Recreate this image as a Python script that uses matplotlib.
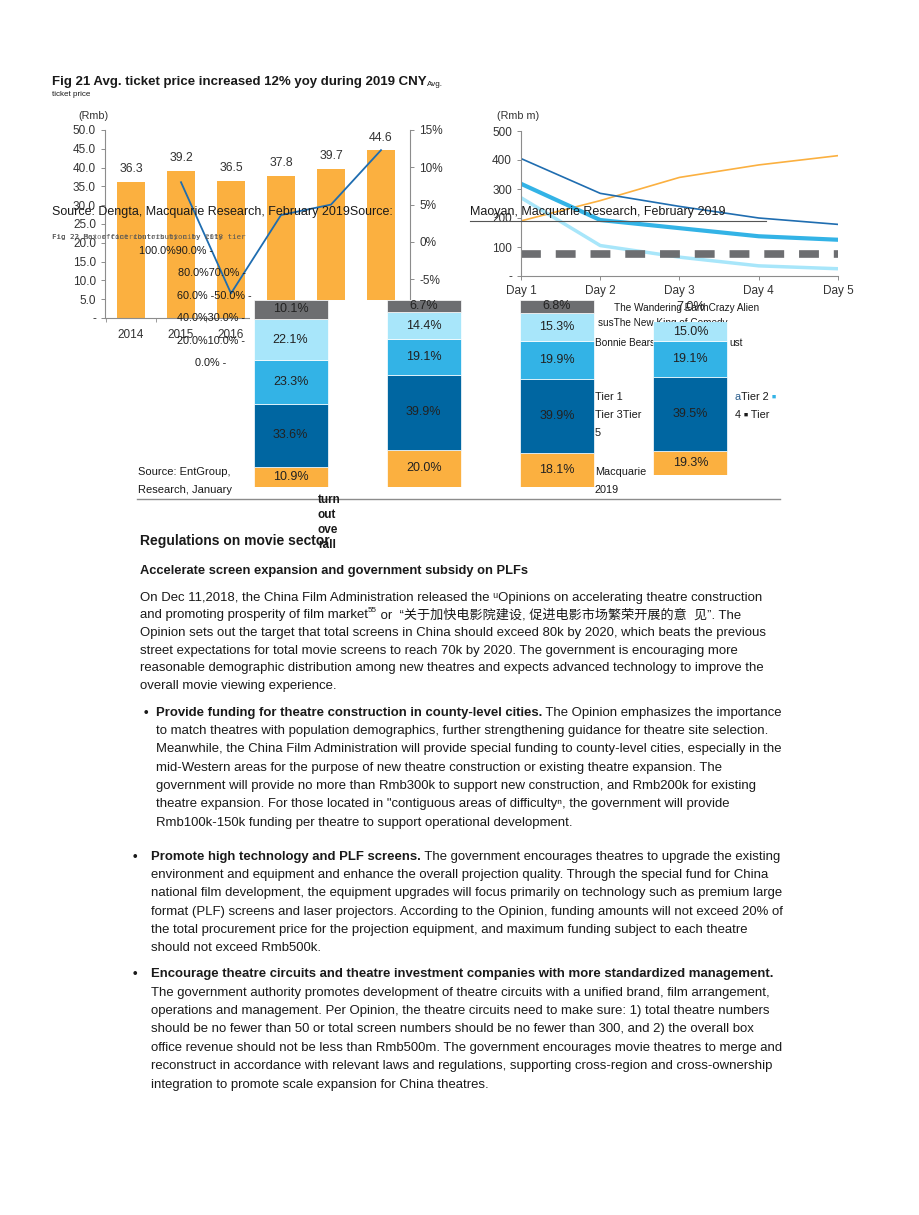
import matplotlib
matplotlib.use("Agg")
import matplotlib.pyplot as plt
from matplotlib.lines import Line2D

# --- 数据 ---
years = ["2014", "2015", "2016", "2017", "2018", "2019"]
ticket_price = [36.3, 39.2, 36.5, 37.8, 39.7, 44.6]
price_yoy = [8.0, -6.9, 3.6, 5.0, 12.3]  # % , 2015-2019

days = ["Day 1", "Day 2", "Day 3", "Day 4", "Day 5"]
wandering_earth = [190, 260, 340, 383, 415]
crazy_alien = [405, 285, 240, 200, 178]
pegasus = [318, 193, 165, 137, 125]
new_king_comedy = [270, 105, 65, 35, 25]
boonie_bears = [75, 75, 75, 75, 75]

tier1 = [10.9, 20.0, 18.1, 19.3]
tier2 = [33.6, 39.9, 39.9, 39.5]
tier3 = [23.3, 19.1, 19.9, 19.1]
tier4 = [22.1, 14.4, 15.3, 15.0]
tier5 = [10.1, 6.7, 6.8, 7.0]

ORANGE = "#FBB040"
DARK = "#0066A1"
MID = "#33B3E6"
LIGHT = "#A8E6FA"
GREY = "#6D6E71"
LINE_BLUE = "#1F6DB0"
TXT = "#1a1a1a"
AX = "#8c8c8c"

W, H = 920, 1215
plt.rcParams["font.family"] = ["Liberation Sans", "DejaVu Sans", "Noto Sans CJK SC"]
fig = plt.figure(figsize=(W / 100, H / 100), dpi=100)
renderer = fig.canvas.get_renderer()


def box(x0, y0, x1, y1):
    return [x0 / W, 1 - y1 / H, (x1 - x0) / W, (y1 - y0) / H]


def put(x, y, s, **kw):
    kw.setdefault("va", "center")
    kw.setdefault("color", TXT)
    return fig.text(x / W, 1 - y / H, s, **kw)


def run(x, y, parts, **common):
    for s, kw in parts:
        kw = {**common, **kw}
        dy = kw.pop("dy", 0)
        t = put(x, y - dy, s, **kw)
        x += t.get_window_extent(renderer=renderer).width
    return x


def style_spines(ax, keep):
    for k, sp in ax.spines.items():
        sp.set_visible(k in keep)
        sp.set_color(AX)
        sp.set_linewidth(0.8)
    ax.tick_params(colors=AX, labelcolor="#333333", labelsize=8.5, length=3, width=0.7)


# --- Fig 21: 평균 티켓 가격 ---
ax1 = fig.add_axes(box(105, 130, 410, 318))
x = list(range(len(years)))
ax1.bar(x, ticket_price, width=0.56, color=ORANGE)
for xi, v in zip(x, ticket_price):
    ax1.text(xi, v + 3.4, f"{v:.1f}", ha="center", va="center", fontsize=8.8, color="#333333")
ax1.set_xlim(-0.52, 5.58)
ax1.set_ylim(0, 50)
ax1.set_yticks(range(0, 51, 5))
ax1.set_yticklabels(["-"] + [f"{v:.1f}" for v in range(5, 51, 5)])
ax1.set_xticks(x)
ax1.set_xticklabels(years)
ax1.set_xticks([i + 0.5 for i in range(-1, 6)], minor=True)
style_spines(ax1, ["left", "bottom"])
ax1.tick_params(axis="x", which="major", length=0, pad=8)
ax1.tick_params(axis="x", which="minor", length=3, color=AX)

ax1r = ax1.twinx()
ax1r.plot(x[1:], price_yoy, color=LINE_BLUE, lw=1.3)
ax1r.set_ylim(-10.2, 15)
ax1r.set_yticks([-10, -5, 0, 5, 10, 15])
ax1r.set_yticklabels(["-10%", "-5%", "0%", "5%", "10%", "15%"])
style_spines(ax1r, ["right"])

run(52, 82, [("Fig 21 Avg. ticket price increased 12% yoy during 2019 CNY",
              {"fontsize": 9.5, "fontweight": "bold"}),
             ("Avg.", {"fontsize": 5.8, "dy": -2})])
put(52, 94, "ticket price", fontsize=5.8)
put(78, 116, "(Rmb)", fontsize=7.8, color="#333333")

# --- 일별 박스오피스 ---
ax2 = fig.add_axes(box(521, 131, 838, 276))
dx = list(range(len(days)))
ax2.plot(dx, wandering_earth, color=ORANGE, lw=1.2)
ax2.plot(dx, crazy_alien, color=LINE_BLUE, lw=1.2)
ax2.plot(dx, pegasus, color=MID, lw=3.0)
ax2.plot(dx, new_king_comedy, color=LIGHT, lw=2.5)
ax2.plot(dx, boonie_bears, color=GREY, lw=5.5, dashes=(2.6, 1.95), solid_capstyle="butt",
         dash_capstyle="butt")
ax2.set_xlim(0, 4)
ax2.set_ylim(0, 500)
ax2.set_yticks(range(0, 501, 100))
ax2.set_yticklabels(["-", "100", "200", "300", "400", "500"])
ax2.set_xticks(dx)
ax2.set_xticklabels(days)
style_spines(ax2, ["left", "bottom"])
put(497, 116, "(Rmb m)", fontsize=7.8, color="#333333")

put(52, 212, "Source: Dengta, Macquarie Research, February 2019Source:", fontsize=9)
put(470, 212, "Maoyan, Macquarie Research, February 2019", fontsize=9)
fig.add_artist(Line2D([470 / W, 766 / W], [1 - 221 / H, 1 - 221 / H], color="#555555", lw=0.8))
put(52, 237, "Fig 22 Box office contribution by city tier", fontsize=5.4, family="DejaVu Sans Mono",
    color="#555555")
put(52, 237, "Fig 23 Major contributors by city 2018", fontsize=5.4, family="DejaVu Sans Mono",
    color="#555555", alpha=0.8)

# --- 도시 등급별 비중 (누적 막대) ---
ax3 = fig.add_axes(box(250, 300, 785, 487), zorder=1)
ax3.set_facecolor("white")
for sp in ax3.spines.values():
    sp.set_visible(False)
ax3.set_xticks([])
ax3.set_yticks([])
ax3.set_xlim(-0.304, 3.71)
ax3.set_ylim(0, 100)

ax4 = fig.add_axes(box(250, 322, 785, 475), zorder=5)
ax4.patch.set_visible(False)
for sp in ax4.spines.values():
    sp.set_visible(False)
ax4.set_xticks([])
ax4.set_yticks([])
ax4.set_xlim(-0.304, 3.71)
lo4, hi4 = 6.42, 88.24
ax4.set_ylim(lo4, hi4)

tiers = [tier1, tier2, tier3, tier4, tier5]
colors = [ORANGE, DARK, MID, LIGHT, GREY]
for i in range(4):
    target = ax3 if i < 3 else ax4
    bottom = 0.0
    for vals, c in zip(tiers, colors):
        v = vals[i]
        target.bar(i, v, bottom=bottom, width=0.555, color=c, edgecolor="white", linewidth=0.5)
        if i < 3:
            cy = bottom + v / 2
        else:
            a, b = max(bottom, lo4), min(bottom + v, hi4)
            cy = (a + b) / 2 if b > a else bottom + v / 2
        target.text(i, cy, f"{v:.1f}%", ha="center", va="center", fontsize=9,
                    color="#222222", clip_on=False)
        bottom += v

for y, s, xr in [(251, "100.0%90.0% -", 213), (273, "80.0%70.0% -", 246),
                 (296, "60.0% -50.0% -", 252), (318, "40.0%30.0% -", 245),
                 (341, "20.0%10.0% -", 245), (363, "0.0% -", 226)]:
    put(xr, y, s, fontsize=7.8, ha="right", zorder=4)

put(614, 308, "The Wandering EarthCrazy Alien", fontsize=7.2)
put(598, 323, "susThe New King of Comedy", fontsize=7.2)
put(595, 343, "Bonnie Bears", fontsize=7.2)
put(729, 343, "ust", fontsize=7.2)
put(595, 397, "Tier 1", fontsize=7.8)
put(595, 415, "Tier 3Tier", fontsize=7.8)
put(595, 433, "5", fontsize=7.8)
put(595, 472, "Macquarie", fontsize=7.8)
put(595, 490, "2019", fontsize=7.8)
run(735, 397, [("a", {"color": "#2a5d8c"}), ("Tier 2 ", {}), ("■", {"color": MID, "fontsize": 5})],
    fontsize=7.8)
run(735, 415, [("4 ", {}), ("■", {"fontsize": 5}), (" Tier", {})], fontsize=7.8)
put(138, 472, "Source: EntGroup,", fontsize=8)
put(138, 490, "Research, January", fontsize=8)
fig.add_artist(Line2D([137 / W, 780 / W], [1 - 499 / H, 1 - 499 / H], color="#8c8c8c", lw=1.0))

for y, s in [(500, "turn"), (515, "out"), (530, "ove"), (545, "rall")]:
    put(318, y, s, fontsize=8.5, fontweight="bold")

# --- 본문 ---
put(140, 541, "Regulations on movie sector", fontsize=10, fontweight="bold")
put(140, 571, "Accelerate screen expansion and government subsidy on PLFs", fontsize=9.3, fontweight="bold")

FS = 9.45
para = [
    "On Dec 11,2018, the China Film Administration released the \u1d58Opinions on accelerating theatre construction",
    None,
    "Opinion sets out the target that total screens in China should exceed 80k by 2020, which beats the previous",
    "street expectations for total movie screens to reach 70k by 2020. The government is encouraging more",
    "reasonable demographic distribution among new theatres and expects advanced technology to improve the",
    "overall movie viewing experience.",
]
para_y = [598, 615, 633, 651, 668, 686]
for y, s in zip(para_y, para):
    if s is None:
        run(140, y, [("and promoting prosperity of film market", {}),
                     ("55", {"fontsize": 5.8, "dy": 4}),
                     (" or  \u201c关于加快电影院建设, 促进电影市场繁荣开展的意  见\u201d. The", {})],
            fontsize=FS)
    else:
        put(140, y, s, fontsize=FS)

bullets = [
    (144, 156, [713, 731, 749, 768, 786, 804, 823],
     "Provide funding for theatre construction in county-level cities.",
     [" The Opinion emphasizes the importance",
      "to match theatres with population demographics, further strengthening guidance for theatre site selection.",
      "Meanwhile, the China Film Administration will provide special funding to county-level cities, especially in the",
      "mid-Western areas for the purpose of new theatre construction or existing theatre expansion. The",
      "government will provide no more than Rmb300k to support new construction, and Rmb200k for existing",
      "theatre expansion. For those located in \"contiguous areas of difficulty\u207f, the government will provide",
      "Rmb100k-150k funding per theatre to support operational development."]),
    (133, 151, [857, 875, 893, 912, 930, 948],
     "Promote high technology and PLF screens.",
     [" The government encourages theatres to upgrade the existing",
      "environment and equipment and enhance the overall projection quality. Through the special fund for China",
      "national film development, the equipment upgrades will focus primarily on technology such as premium large",
      "format (PLF) screens and laser projectors. According to the Opinion, funding amounts will not exceed 20% of",
      "the total procurement price for the projection equipment, and maximum funding subject to each theatre",
      "should not exceed Rmb500k."]),
    (133, 151, [974, 993, 1011, 1029, 1048, 1066, 1085],
     "Encourage theatre circuits and theatre investment companies with more standardized management.",
     ["",
      "The government authority promotes development of theatre circuits with a unified brand, film arrangement,",
      "operations and management. Per Opinion, the theatre circuits need to make sure: 1) total theatre numbers",
      "should be no fewer than 50 or total screen numbers should be no fewer than 300, and 2) the overall box",
      "office revenue should not be less than Rmb500m. The government encourages movie theatres to merge and",
      "reconstruct in accordance with relevant laws and regulations, supporting cross-region and cross-ownership",
      "integration to promote scale expansion for China theatres."]),
]
for bx, tx, ys, head, lines in bullets:
    put(bx, ys[0], "\u2022", fontsize=FS, fontweight="bold")
    run(tx, ys[0], [(head, {"fontweight": "bold"}), (lines[0], {})], fontsize=FS)
    for y, s in zip(ys[1:], lines[1:]):
        put(tx, y, s, fontsize=FS)

fig.savefig("out.png", dpi=100, facecolor="white")
